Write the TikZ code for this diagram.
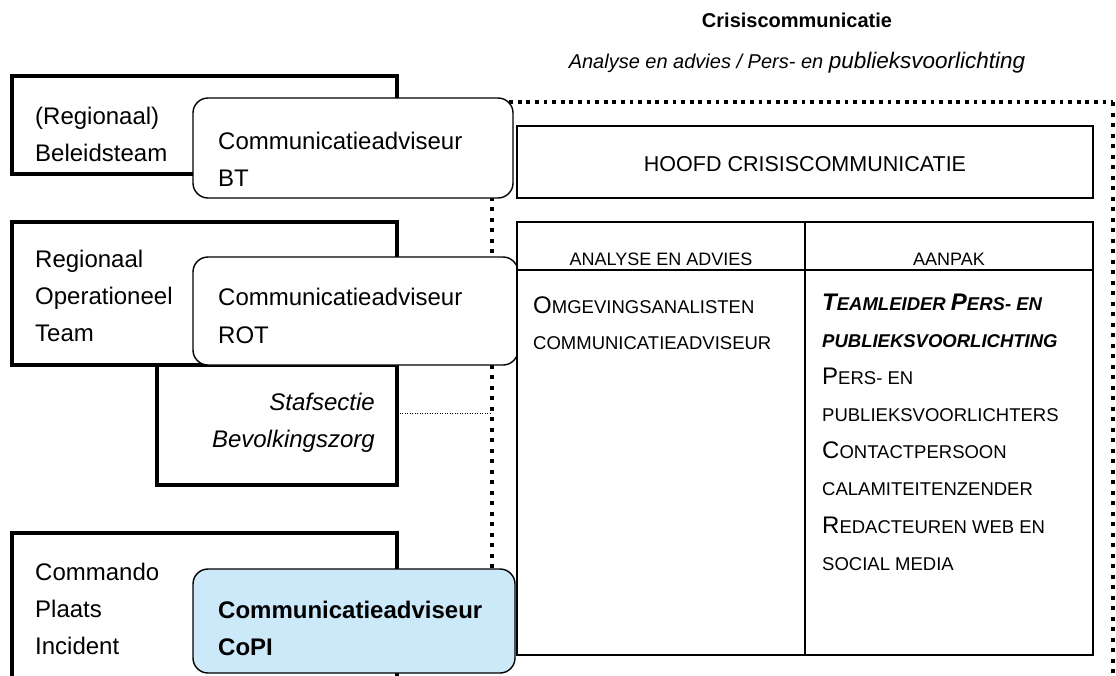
\documentclass[tikz,border=0pt]{standalone}
\usepackage{fontspec}
\setmainfont{Liberation Sans}
\newcommand\fs[1]{\fontsize{#1}{#1}\selectfont}
\newcommand\SCb[1]{{\fs{24}#1}}
\newcommand\SCs[1]{{\fs{18.5}#1}}
\begin{document}
\begin{tikzpicture}[x=1pt,y=-1pt,
  thickbox/.style={draw, line width=4.5pt, fill=white, inner sep=0pt, outer sep=0pt, anchor=north west},
  advbox/.style={draw, line width=1.4pt, fill=white, rounded corners=15pt, inner sep=0pt, outer sep=0pt, anchor=north west},
  thinbox/.style={draw, line width=1.4pt, fill=white, inner sep=0pt, outer sep=0pt, anchor=north west},
  lbl/.style={inner sep=0pt, anchor=base west, font=\fs{24}},
  sclbl/.style={inner sep=0pt, anchor=base west},
  frameh/.style={line width=3.8pt, dash pattern=on 3.8pt off 4.8pt},
  framev/.style={line width=3.8pt, dash pattern=on 4pt off 6.5pt},
  link/.style={line width=1pt, dash pattern=on 1pt off 1.5pt}]
\useasboundingbox (0,0) rectangle (1116,675);
\clip (0,0) rectangle (1116,675);
\fill[white] (0,0) rectangle (1116,675);

% titles
\node[inner sep=0pt, anchor=base, font=\fs{20}\bfseries] (title) at (797,27) {Crisiscommunicatie};
\node[inner sep=0pt, anchor=base, font=\itshape] (sub) at (797,68) {\fs{20}Analyse en advies / Pers- en \fs{22.5}publieksvoorlichting};

% dotted frame
\coordinate (ftl) at (492,102);
\coordinate (ftr) at (1113,102);
\coordinate (fbl) at (492,569);
\coordinate (fbr) at (1113,690);
\draw[frameh] (ftl) -- (ftr);
\draw[framev] (ftl) -- (fbl);
\draw[framev] (ftr) -- (fbr);

% Beleidsteam
\node[thickbox, minimum width=385pt, minimum height=98pt] (belb) at (12,76) {};
\node[lbl] (belt1) at (35,124) {(Regionaal)};
\node[lbl] (belt2) at (35,161) {Beleidsteam};
\node[advbox, minimum width=320pt, minimum height=100pt] (btc) at (193,98) {};
\node[lbl] (btt1) at (218,149) {Communicatieadviseur};
\node[lbl] (btt2) at (218,186) {BT};

% ROT
\node[thickbox, minimum width=240pt, minimum height=120pt] (staf) at (157,365) {};
\node[thickbox, minimum width=385pt, minimum height=143pt] (rotb) at (12,222) {};
\node[lbl] (rott1) at (35,267) {Regionaal};
\node[lbl] (rott2) at (35,304) {Operationeel};
\node[lbl] (rott3) at (35,341) {Team};
\node[advbox, minimum width=325pt, minimum height=108pt] (rotc) at (193,257) {};
\node[lbl] (rotct1) at (218,305) {Communicatieadviseur};
\node[lbl] (rotct2) at (218,343) {ROT};
\node[inner sep=0pt, anchor=base east, font=\fs{24}\itshape] (staft1) at (375,410) {Stafsectie};
\node[inner sep=0pt, anchor=base east, font=\fs{24}\itshape] (staft2) at (375,447) {Bevolkingszorg};
\coordinate (lk) at (492,413);
\draw[link] (staf.east |- lk) -- (lk);

% CoPI
\node[thickbox, minimum width=385pt, minimum height=180pt] (copib) at (12,533) {};
\node[lbl] (copit1) at (35,580) {Commando};
\node[lbl] (copit2) at (35,617) {Plaats};
\node[lbl] (copit3) at (35,654) {Incident};
\node[advbox, fill={rgb,255:red,204;green,233;blue,249}, minimum width=322pt, minimum height=104pt] (copic) at (193,569) {};
\node[lbl, font=\fs{24}\bfseries] (copict1) at (218,618) {Communicatieadviseur};
\node[lbl, font=\fs{24}\bfseries] (copict2) at (218,655) {CoPI};

% Hoofd
\node[thinbox, minimum width=576pt, minimum height=72pt] (hoofd) at (517,126) {};
\node[inner sep=0pt, anchor=base, font=\fs{21.5}] (hoofdt) at (805,171) {HOOFD CRISISCOMMUNICATIE};

% table
\node[thinbox, minimum width=576pt, minimum height=433pt] (tab) at (517,222) {};
\coordinate (hl) at (517,270);
\draw[line width=1.4pt] (hl) -- (hl -| tab.east);
\coordinate (dv) at (805,222);
\draw[line width=1.4pt] (dv) -- (dv |- tab.south);
\node[inner sep=0pt, anchor=base, font=\fs{18}] (h1) at (661,265) {ANALYSE EN ADVIES};
\node[inner sep=0pt, anchor=base, font=\fs{18}] (h2) at (949,265) {AANPAK};

\node[sclbl] (a1) at (533,313) {\SCb{O}\SCs{MGEVINGSANALISTEN}};
\node[sclbl] (a2) at (533,349) {\SCs{COMMUNICATIEADVISEUR}};

\node[sclbl, font=\bfseries\itshape] (b1) at (822,310) {\SCb{T}\SCs{EAMLEIDER }\SCb{P}\SCs{ERS- EN}};
\node[sclbl, font=\bfseries\itshape] (b2) at (822,347) {\SCs{PUBLIEKSVOORLICHTING}};
\node[sclbl] (b3) at (822,384) {\SCb{P}\SCs{ERS- EN}};
\node[sclbl] (b4) at (822,421) {\SCs{PUBLIEKSVOORLICHTERS}};
\node[sclbl] (b5) at (822,458) {\SCb{C}\SCs{ONTACTPERSOON}};
\node[sclbl] (b6) at (822,495) {\SCs{CALAMITEITENZENDER}};
\node[sclbl] (b7) at (822,533) {\SCb{R}\SCs{EDACTEUREN WEB EN}};
\node[sclbl] (b8) at (822,570) {\SCs{SOCIAL MEDIA}};
\end{tikzpicture}
\end{document}
